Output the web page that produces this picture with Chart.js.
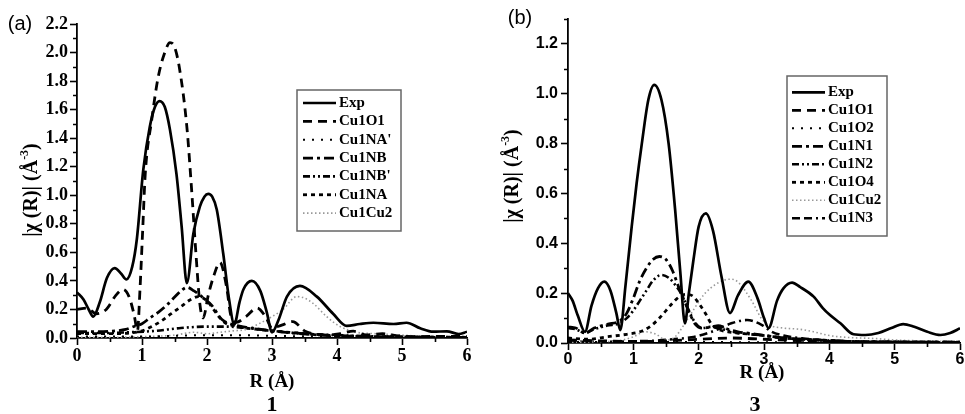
<!DOCTYPE html>
<html>
<head>
<meta charset="utf-8">
<script src="https://cdn.jsdelivr.net/npm/chart.js@4/dist/chart.umd.min.js"></script>
<style>
  html, body { margin: 0; padding: 0; background: #fff; width: 965px; height: 414px; overflow: hidden; }
  canvas { position: absolute; top: 0; }
  #ca { left: 0; }
  #cb { left: 482px; }
</style>
</head>
<body>
<canvas id="ca" width="482" height="414"></canvas>
<canvas id="cb" width="483" height="414"></canvas>
<script>
// ---------- Compound 1: Fourier-transformed EXAFS |chi(R)| and single-path contributions ----------
const a_expR   = [0, 0.1, 0.18, 0.25, 0.35, 0.46, 0.58, 0.68, 0.76, 0.85, 0.92, 1.02, 1.12, 1.2, 1.27, 1.35, 1.43, 1.53, 1.61, 1.69, 1.79, 1.89, 1.96, 2.02, 2.08, 2.15, 2.25, 2.34, 2.42, 2.5, 2.56, 2.69, 2.82, 2.92, 3.0, 3.1, 3.23, 3.43, 3.69, 3.94, 4.15, 4.35, 4.56, 4.87, 5.07, 5.28, 5.48, 5.69, 5.87, 6.0];
const a_expChi = [0.32, 0.27, 0.2, 0.15, 0.25, 0.42, 0.49, 0.45, 0.41, 0.5, 0.69, 1.18, 1.48, 1.62, 1.66, 1.62, 1.46, 1.15, 0.78, 0.385, 0.73, 0.92, 0.99, 1.01, 0.99, 0.9, 0.59, 0.27, 0.095, 0.25, 0.34, 0.40, 0.33, 0.18, 0.04, 0.126, 0.29, 0.365, 0.29, 0.17, 0.085, 0.098, 0.107, 0.098, 0.107, 0.068, 0.044, 0.047, 0.028, 0.044];

const a_o1R    = [0, 0.15, 0.3, 0.45, 0.6, 0.71, 0.8, 0.88, 0.93, 0.97, 1.01, 1.05, 1.15, 1.25, 1.35, 1.43, 1.5, 1.58, 1.69, 1.76, 1.83, 1.89, 1.94, 2.02, 2.1, 2.2, 2.3, 2.37, 2.45, 2.6, 2.77, 2.9, 3.0, 3.15, 3.32, 3.5, 3.7, 3.85, 4.05, 4.25, 4.45, 4.7, 4.95, 5.3, 5.6, 6.0];
const a_o1Chi  = [0.2, 0.21, 0.17, 0.2, 0.3, 0.34, 0.29, 0.16, 0.05, 0.35, 0.75, 1.15, 1.53, 1.83, 2.0, 2.07, 2.04, 1.88, 1.48, 1.06, 0.59, 0.24, 0.14, 0.3, 0.43, 0.53, 0.36, 0.15, 0.11, 0.15, 0.21, 0.15, 0.07, 0.09, 0.115, 0.05, 0.025, 0.02, 0.03, 0.048, 0.022, 0.03, 0.015, 0.01, 0.012, 0.01];

const a_naPR   = [0, 1.0, 1.5, 2.0, 2.5, 3.0, 4.0, 5.0, 6.0];
const a_naPChi = [0.01, 0.01, 0.015, 0.02, 0.02, 0.015, 0.01, 0.008, 0.005];

const a_nbR    = [0, 0.3, 0.6, 0.75, 0.9, 1.0, 1.12, 1.25, 1.38, 1.51, 1.6, 1.69, 1.8, 1.92, 2.07, 2.23, 2.43, 2.6, 2.75, 3.0, 3.3, 3.6, 4.0, 4.5, 5.0, 5.5, 6.0];
const a_nbChi  = [0.045, 0.045, 0.05, 0.06, 0.085, 0.1, 0.14, 0.18, 0.23, 0.29, 0.33, 0.355, 0.33, 0.29, 0.23, 0.13, 0.09, 0.075, 0.065, 0.05, 0.035, 0.025, 0.015, 0.01, 0.008, 0.005, 0.005];

const a_nbPR   = [0, 0.4, 0.8, 1.2, 1.6, 2.0, 2.3, 2.6, 3.0, 3.5, 4.0, 4.5, 5.0, 6.0];
const a_nbPChi = [0.035, 0.035, 0.04, 0.05, 0.07, 0.08, 0.08, 0.07, 0.05, 0.03, 0.02, 0.012, 0.008, 0.005];

const a_naR    = [0, 0.4, 0.8, 1.0, 1.15, 1.3, 1.45, 1.6, 1.75, 1.87, 2.0, 2.1, 2.2, 2.3, 2.45, 2.6, 2.8, 3.0, 3.4, 3.8, 4.3, 5.0, 6.0];
const a_naChi  = [0.03, 0.03, 0.035, 0.05, 0.08, 0.12, 0.17, 0.22, 0.27, 0.29, 0.26, 0.2, 0.14, 0.1, 0.085, 0.07, 0.06, 0.05, 0.035, 0.02, 0.012, 0.008, 0.005];

const a_cuR    = [0, 0.5, 1.0, 1.5, 1.8, 2.0, 2.2, 2.4, 2.6, 2.8, 3.0, 3.17, 3.38, 3.5, 3.64, 3.84, 4.05, 4.3, 4.6, 5.0, 5.5, 6.0];
const a_cuChi  = [0.005, 0.005, 0.01, 0.02, 0.04, 0.03, 0.04, 0.05, 0.06, 0.1, 0.15, 0.2, 0.29, 0.28, 0.24, 0.15, 0.08, 0.04, 0.03, 0.02, 0.01, 0.01];

// ---------- Compound 3 ----------
const b_expR   = [0, 0.07, 0.15, 0.26, 0.36, 0.46, 0.556, 0.65, 0.74, 0.8, 0.88, 0.975, 1.05, 1.13, 1.23, 1.32, 1.43, 1.54, 1.64, 1.72, 1.79, 1.85, 1.92, 2.0, 2.11, 2.22, 2.35, 2.48, 2.6, 2.76, 2.9, 3.0, 3.07, 3.2, 3.3, 3.43, 3.55, 3.76, 3.9, 4.01, 4.17, 4.37, 4.55, 4.75, 4.95, 5.13, 5.3, 5.5, 5.7, 5.85, 6.0];
const b_expChi = [0.2, 0.17, 0.11, 0.045, 0.15, 0.22, 0.246, 0.21, 0.12, 0.052, 0.23, 0.467, 0.64, 0.80, 0.976, 1.036, 0.976, 0.80, 0.534, 0.28, 0.079, 0.2, 0.333, 0.467, 0.52, 0.45, 0.266, 0.12, 0.19, 0.246, 0.18, 0.1, 0.06, 0.17, 0.22, 0.242, 0.225, 0.186, 0.14, 0.112, 0.079, 0.035, 0.032, 0.04, 0.06, 0.076, 0.065, 0.045, 0.032, 0.04, 0.059];

const b_o1R    = [0, 0.3, 0.6, 1.0, 1.5, 2.0, 2.5, 3.0, 3.5, 4.0, 5.0, 6.0];
const b_o1Chi  = [0.012, 0.01, 0.008, 0.006, 0.008, 0.015, 0.02, 0.015, 0.01, 0.006, 0.004, 0.003];

const b_o2R    = [0, 1.0, 2.0, 3.0, 4.0, 5.0, 6.0];
const b_o2Chi  = [0.004, 0.004, 0.004, 0.003, 0.003, 0.002, 0.002];

const b_n1R    = [0, 0.12, 0.26, 0.4, 0.6, 0.8, 0.9, 1.0, 1.1, 1.2, 1.3, 1.4, 1.5, 1.6, 1.7, 1.78, 1.86, 1.95, 2.05, 2.2, 2.3, 2.45, 2.6, 2.8, 3.0, 3.3, 3.6, 4.0, 4.5, 5.0, 6.0];
const b_n1Chi  = [0.065, 0.06, 0.04, 0.06, 0.075, 0.09, 0.12, 0.18, 0.25, 0.3, 0.335, 0.347, 0.335, 0.29, 0.22, 0.17, 0.12, 0.075, 0.06, 0.065, 0.07, 0.055, 0.045, 0.038, 0.03, 0.02, 0.015, 0.01, 0.005, 0.004, 0.003];

const b_n2R    = [0, 0.12, 0.26, 0.4, 0.6, 0.8, 0.9, 1.0, 1.1, 1.2, 1.3, 1.43, 1.55, 1.65, 1.75, 1.85, 1.95, 2.05, 2.2, 2.3, 2.45, 2.6, 2.8, 3.0, 3.3, 3.6, 4.0, 4.5, 5.0, 6.0];
const b_n2Chi  = [0.06, 0.055, 0.04, 0.055, 0.07, 0.08, 0.1, 0.13, 0.17, 0.21, 0.25, 0.273, 0.26, 0.23, 0.19, 0.13, 0.08, 0.06, 0.065, 0.06, 0.05, 0.04, 0.035, 0.03, 0.02, 0.015, 0.01, 0.005, 0.004, 0.003];

const b_o4R    = [0, 0.3, 0.6, 0.9, 1.1, 1.25, 1.4, 1.5, 1.6, 1.7, 1.8, 1.9, 2.0, 2.1, 2.2, 2.3, 2.45, 2.6, 2.8, 3.0, 3.3, 3.6, 4.0, 4.5, 6.0];
const b_o4Chi  = [0.02, 0.015, 0.025, 0.035, 0.045, 0.065, 0.1, 0.13, 0.16, 0.185, 0.195, 0.19, 0.16, 0.12, 0.075, 0.055, 0.045, 0.04, 0.035, 0.03, 0.02, 0.015, 0.01, 0.005, 0.003];

const b_cuR    = [0, 0.5, 0.8, 1.0, 1.18, 1.35, 1.5, 1.64, 1.84, 2.1, 2.4, 2.5, 2.6, 2.81, 2.97, 3.1, 3.3, 3.55, 3.76, 4.0, 4.3, 4.7, 5.0, 5.5, 6.0];
const b_cuChi  = [0.003, 0.005, 0.01, 0.025, 0.045, 0.035, 0.012, 0.025, 0.1, 0.2, 0.253, 0.256, 0.245, 0.17, 0.095, 0.07, 0.06, 0.055, 0.045, 0.03, 0.022, 0.018, 0.012, 0.008, 0.005];

const b_n3R    = [0, 0.5, 1.0, 1.3, 1.6, 1.89, 2.2, 2.5, 2.74, 2.97, 3.12, 3.3, 3.6, 4.0, 4.5, 6.0];
const b_n3Chi  = [0.005, 0.005, 0.007, 0.009, 0.015, 0.023, 0.045, 0.079, 0.092, 0.072, 0.045, 0.03, 0.018, 0.01, 0.005, 0.003];

// axis ticks
const rTicks = [0, 1, 2, 3, 4, 5, 6];
const chiMaxA = 2.2, chiMaxB = 1.3;

const SERIF = "'Liberation Serif', 'Times New Roman', serif";
const SANS  = "'Liberation Sans', Arial, sans-serif";

function pts(r, v) { return r.map((x, i) => ({ x: x, y: v[i] })); }

// short ticks between the labelled ones
const minorTicks = {
  id: 'minorTicks',
  afterDraw(chart, args, o) {
    const { ctx, chartArea, scales: { x, y } } = chart;
    ctx.save();
    ctx.strokeStyle = '#000';
    ctx.lineWidth = 1.6;
    ctx.setLineDash([]);
    ctx.beginPath();
    const isMajor = (v, s) => Math.abs(v / s - Math.round(v / s)) < 1e-6;
    for (let v = x.min; v <= x.max + 1e-9; v += o.xStep) {
      if (isMajor(v, x.options.ticks.stepSize)) continue;
      const px = Math.round(x.getPixelForValue(v)) + 0.5;
      ctx.moveTo(px, chartArea.bottom); ctx.lineTo(px, chartArea.bottom + o.len);
    }
    for (let v = y.min; v <= y.max + 1e-9; v += o.yStep) {
      if (isMajor(v, y.options.ticks.stepSize)) continue;
      const py = Math.round(y.getPixelForValue(v)) + 0.5;
      ctx.moveTo(chartArea.left, py); ctx.lineTo(chartArea.left - o.len, py);
    }
    ctx.stroke();
    ctx.restore();
  }
};

// framed legend listing every dataset with its own stroke style
const boxLegend = {
  id: 'boxLegend',
  afterDraw(chart, args, o) {
    const ctx = chart.ctx;
    ctx.save();
    ctx.setLineDash([]);
    ctx.strokeStyle = '#666';
    ctx.lineWidth = 1.5;
    ctx.strokeRect(o.left, o.top, o.width, o.height);
    ctx.font = o.font;
    ctx.textBaseline = 'middle';
    ctx.textAlign = 'left';
    chart.data.datasets.forEach((ds, i) => {
      const yy = o.firstRow + i * o.rowGap;
      ctx.strokeStyle = ds.borderColor;
      ctx.lineWidth = ds.borderWidth;
      ctx.setLineDash(ds.borderDash || []);
      ctx.beginPath();
      ctx.moveTo(o.sampleFrom, yy); ctx.lineTo(o.sampleTo, yy);
      ctx.stroke();
      ctx.setLineDash([]);
      ctx.fillStyle = '#000';
      ctx.fillText(ds.label, o.textX, yy);
    });
    ctx.restore();
  }
};

// panel letter, axis titles and compound number
function drawRuns(ctx, runs, cx, cy, rot) {
  ctx.save();
  ctx.translate(cx, cy);
  ctx.rotate(rot || 0);
  ctx.textBaseline = 'middle';
  ctx.textAlign = 'left';
  let total = 0;
  runs.forEach(r => { ctx.font = r.font; r.w = ctx.measureText(r.t).width; total += r.w; });
  let xx = -total / 2;
  runs.forEach(r => { ctx.font = r.font; ctx.fillText(r.t, xx, r.dy || 0); xx += r.w; });
  ctx.restore();
}
const panelText = {
  id: 'panelText',
  afterDraw(chart, args, o) {
    const ctx = chart.ctx;
    ctx.fillStyle = '#000';
    o.items.forEach(it => drawRuns(ctx, it.runs, it.x, it.y, it.rot));
  }
};

function yTitleRuns(size) {
  return [
    { t: '|\u03C7 (R)| (\u00C5', font: 'bold ' + size + 'px ' + SERIF },
    { t: '-3', font: 'bold ' + Math.round(size * 0.6) + 'px ' + SERIF, dy: -size * 0.35 },
    { t: ')', font: 'bold ' + size + 'px ' + SERIF }
  ];
}

function makeChart(id, p) {
  return new Chart(document.getElementById(id), {
    type: 'line',
    data: {
      datasets: p.series.map(s => ({
        label: s.label,
        data: pts(s.r, s.v),
        borderColor: s.color || '#000',
        borderWidth: s.width,
        borderDash: s.dash,
        borderCapStyle: 'butt',
        pointRadius: 0,
        fill: false,
        cubicInterpolationMode: 'monotone'
      }))
    },
    options: {
      responsive: false,
      animation: false,
      events: [],
      layout: { padding: { left: 0, right: p.padRight, top: p.padTop, bottom: 0 } },
      scales: {
        x: {
          type: 'linear', min: 0, max: 6,
          afterFit: s => { s.height = p.xHeight; },
          ticks: { stepSize: 1, padding: p.xTickPad, color: '#000', font: p.tickFont,
                   callback: v => rTicks.includes(v) ? String(v) : '' },
          grid: { drawOnChartArea: false, drawTicks: true, tickLength: 7, tickWidth: 1.6, tickColor: '#000' },
          border: { display: true, color: '#000', width: 1.8 }
        },
        y: {
          type: 'linear', min: 0, max: p.yMax,
          afterFit: s => { s.width = p.yWidth; },
          ticks: { stepSize: 0.2, includeBounds: false, padding: p.yTickPad, color: '#000', font: p.tickFont,
                   callback: v => v.toFixed(1) },
          grid: { drawOnChartArea: false, drawTicks: true, tickLength: 7, tickWidth: 1.6, tickColor: '#000' },
          border: { display: true, color: '#000', width: 1.8 }
        }
      },
      plugins: {
        legend: { display: false },
        tooltip: { enabled: false },
        minorTicks: { xStep: 0.5, yStep: 0.1, len: 4 },
        boxLegend: p.legend,
        panelText: { items: p.texts }
      }
    },
    plugins: [minorTicks, boxLegend, panelText]
  });
}

const legendFont = 'bold 15px ' + SERIF;

makeChart('ca', {
  yMax: chiMaxA, yWidth: 77, xHeight: 76, padRight: 15, padTop: 24,
  xTickPad: 1, yTickPad: 2,
  tickFont: { family: SERIF, weight: 'bold', size: 18 },
  series: [
    { label: 'Exp',     r: a_expR, v: a_expChi, width: 2.7, dash: [] },
    { label: 'Cu1O1',   r: a_o1R,  v: a_o1Chi,  width: 2.8, dash: [9, 6] },
    { label: "Cu1NA'",  r: a_naPR, v: a_naPChi, width: 2,   dash: [2, 7] },
    { label: 'Cu1NB',   r: a_nbR,  v: a_nbChi,  width: 2.8, dash: [10, 4, 3, 4] },
    { label: "Cu1NB'",  r: a_nbPR, v: a_nbPChi, width: 2.6, dash: [7, 3, 2, 3, 2, 3] },
    { label: 'Cu1NA',   r: a_naR,  v: a_naChi,  width: 2.8, dash: [4, 4] },
    { label: 'Cu1Cu2',  r: a_cuR,  v: a_cuChi,  width: 1.6, dash: [1.5, 2.5], color: '#999' }
  ],
  legend: { left: 297, top: 90, width: 104, height: 141, firstRow: 103, rowGap: 18.35,
            sampleFrom: 303, sampleTo: 336, textX: 339, font: legendFont },
  texts: [
    { runs: [{ t: '(a)', font: '20px ' + SANS }], x: 20, y: 24 },
    { runs: yTitleRuns(20), x: 32, y: 190, rot: -Math.PI / 2 },
    { runs: [{ t: 'R (\u00C5)', font: 'bold 19px ' + SERIF }], x: 272, y: 382 },
    { runs: [{ t: '1', font: 'bold 22px ' + SERIF }], x: 272, y: 405 }
  ]
});

makeChart('cb', {
  yMax: chiMaxB, yWidth: 86, xHeight: 71, padRight: 5, padTop: 19,
  xTickPad: 0, yTickPad: 3,
  tickFont: { family: SANS, weight: 'bold', size: 16 },
  series: [
    { label: 'Exp',    r: b_expR, v: b_expChi, width: 2.7, dash: [] },
    { label: 'Cu1O1',  r: b_o1R,  v: b_o1Chi,  width: 2.8, dash: [9, 6] },
    { label: 'Cu1O2',  r: b_o2R,  v: b_o2Chi,  width: 2,   dash: [2, 7] },
    { label: 'Cu1N1',  r: b_n1R,  v: b_n1Chi,  width: 2.8, dash: [10, 4, 3, 4] },
    { label: 'Cu1N2',  r: b_n2R,  v: b_n2Chi,  width: 2.6, dash: [7, 3, 2, 3, 2, 3] },
    { label: 'Cu1O4',  r: b_o4R,  v: b_o4Chi,  width: 2.8, dash: [4, 4] },
    { label: 'Cu1Cu2', r: b_cuR,  v: b_cuChi,  width: 1.6, dash: [1.5, 2.5], color: '#999' },
    { label: 'Cu1N3',  r: b_n3R,  v: b_n3Chi,  width: 2.6, dash: [8, 4, 8, 4, 2, 4] }
  ],
  legend: { left: 305, top: 76, width: 100, height: 160, firstRow: 92.3, rowGap: 18,
            sampleFrom: 310, sampleTo: 343, textX: 346, font: legendFont },
  texts: [
    { runs: [{ t: '(b)', font: '20px ' + SANS }], x: 38, y: 18 },
    { runs: yTitleRuns(20), x: 31, y: 176, rot: -Math.PI / 2 },
    { runs: [{ t: 'R (\u00C5)', font: 'bold 19px ' + SERIF }], x: 280, y: 373 },
    { runs: [{ t: '3', font: 'bold 22px ' + SERIF }], x: 273, y: 405 }
  ]
});
</script>
</body>
</html>
